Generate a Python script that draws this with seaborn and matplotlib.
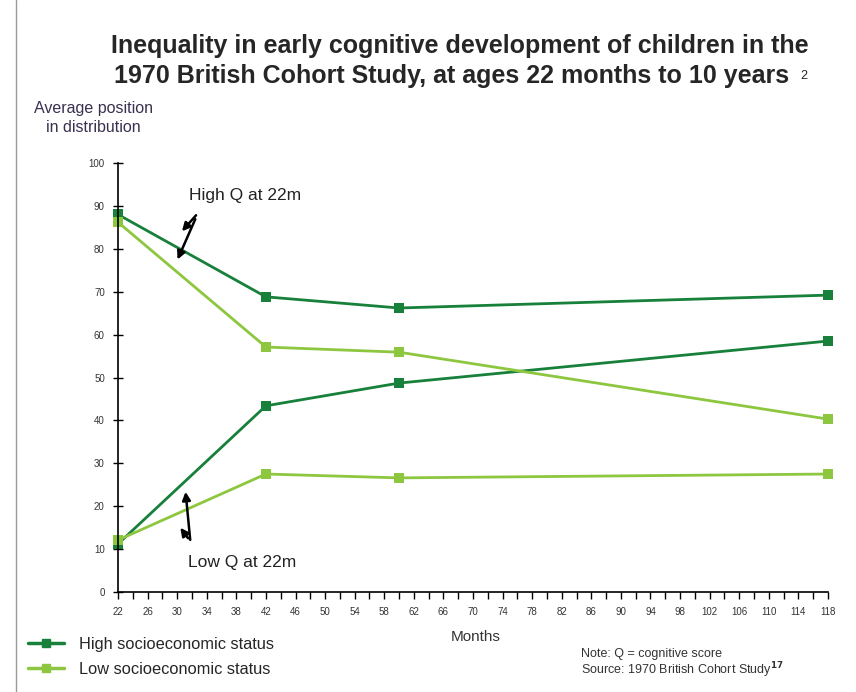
import pandas as pd
import matplotlib.pyplot as plt
import seaborn as sns
from matplotlib.lines import Line2D

# --- data ---
months = [22, 42, 60, 118]
high_ses_high_q = [88.0, 68.8, 66.2, 69.2]
low_ses_high_q = [86.2, 57.1, 55.9, 40.3]
high_ses_low_q = [11.2, 43.4, 48.7, 58.5]
low_ses_low_q = [12.1, 27.5, 26.6, 27.5]

x_ticks = list(range(22, 119, 4))
y_ticks = list(range(0, 101, 10))

DARK = '#17803a'
LIGHT = '#8dc63f'

rows = []
for name, ses, vals in [('hh', 'High', high_ses_high_q), ('lh', 'Low', low_ses_high_q),
                        ('hl', 'High', high_ses_low_q), ('ll', 'Low', low_ses_low_q)]:
    for m, v in zip(months, vals):
        rows.append({'Months': m, 'score': v, 'SES': ses, 'group': name})
df = pd.DataFrame(rows)

sns.set_style('white')
plt.rcParams['font.family'] = ['Liberation Sans', 'DejaVu Sans']

fig = plt.figure(figsize=(8.56, 6.92), dpi=100)
ax = fig.add_axes([118 / 856, 1 - 592 / 692, 710 / 856, 429 / 692])

sns.lineplot(data=df, x='Months', y='score', hue='SES', units='group', estimator=None,
             palette={'High': DARK, 'Low': LIGHT}, marker='s', markersize=7,
             markeredgewidth=0, linewidth=2, legend=False, ax=ax, clip_on=False)

ax.set_xlim(22, 118)
ax.set_ylim(0, 100)
ax.set_xticks(x_ticks)
ax.set_xticks(range(22, 119, 2), minor=True)
ax.set_yticks(y_ticks)
ax.tick_params(axis='x', which='both', bottom=True, direction='out', length=5, width=1,
               labelsize=7, colors='black', pad=6)
ax.tick_params(axis='y', left=True, direction='inout', length=7, width=1, labelsize=7,
               colors='black', pad=6)
for lbl in ax.get_xticklabels() + ax.get_yticklabels():
    lbl.set_color('#333333')
sns.despine(ax=ax)
ax.spines['left'].set_color('black')
ax.spines['bottom'].set_color('black')
ax.spines['left'].set_linewidth(1.2)
ax.spines['bottom'].set_linewidth(1.2)
ax.set_xlabel('')
ax.set_ylabel('')

# annotations
ax.text(31.6, 92.5, 'High Q at 22m', fontsize=12.5, color='#222222', va='center')
ax.text(31.4, 6.8, 'Low Q at 22m', fontsize=12.5, color='#222222', va='center')
arrow = dict(arrowstyle='-|>', color='black', lw=1.8, mutation_scale=12)
ax.annotate('', xy=(30.4, 83.6), xytext=(32.8, 88.3), arrowprops=arrow)
ax.annotate('', xy=(29.9, 76.9), xytext=(32.6, 87.5), arrowprops=arrow)
ax.annotate('', xy=(31.1, 24.0), xytext=(31.8, 11.5), arrowprops=arrow)
ax.annotate('', xy=(30.2, 15.5), xytext=(31.7, 12.0), arrowprops=arrow)

# title and labels
fig.text(0.537, 1 - 46 / 692, 'Inequality in early cognitive development of children in the',
         ha='center', va='center', fontsize=18, fontweight='bold')
fig.text(0.528, 1 - 76 / 692, '1970 British Cohort Study, at ages 22 months to 10 years',
         ha='center', va='center', fontsize=18, fontweight='bold')
fig.text(800 / 856, 1 - 76 / 692, '2', ha='left', va='center', fontsize=9)
fig.text(93 / 856, 1 - 118 / 692, 'Average position\nin distribution', ha='center',
         va='center', fontsize=11.5, color='#3a3050', linespacing=1.25)
fig.text(476 / 856, 1 - 637 / 692, 'Months', ha='center', va='center', fontsize=11,
         color='#333333')
fig.text(581 / 856, 1 - 654 / 692, 'Note: Q = cognitive score', fontsize=9, va='center',
         color='#333333')
fig.text(581 / 856, 1 - 670 / 692, 'Source: 1970 British Cohort Study$^{\\bf 17}$', fontsize=9,
         va='center', color='#333333')

handles = [Line2D([], [], color=DARK, lw=2.5, marker='s', markersize=6),
           Line2D([], [], color=LIGHT, lw=2.5, marker='s', markersize=6)]
fig.legend(handles, ['High socioeconomic status', 'Low socioeconomic status'],
           loc='center left', bbox_to_anchor=(28 / 856, 1 - 657 / 692), frameon=False,
           fontsize=11.8, handlelength=2.2, handletextpad=0.9, labelspacing=0.6,
           borderaxespad=0, borderpad=0)

# page border on the left
fig.add_artist(Line2D([16 / 856, 16 / 856], [0, 1], color='#999999', lw=1))

fig.savefig('out.png', dpi=100)
